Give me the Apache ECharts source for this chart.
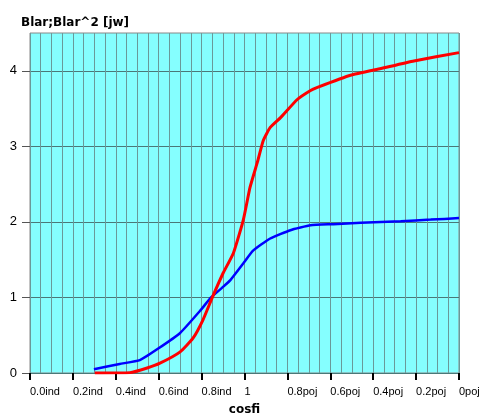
<!DOCTYPE html>
<html>
<head>
<meta charset="utf-8">
<script src="https://cdn.jsdelivr.net/npm/echarts@6/dist/echarts.min.js"></script>
<style>
html,body{margin:0;padding:0;background:#fff;}
#c{width:479px;height:414px;}
</style>
</head>
<body>
<div id="c"></div>
<script>
// Tick labels of the x axis (one per major tick)
var xTickLabels = ['0.0ind','0.2ind','0.4ind','0.6ind','0.8ind','1','0.8poj','0.6poj','0.4poj','0.2poj','0poj'];
var yTickValues = [0,1,2,3,4];

// Blue series (Blar)
var blueX = [1.49,2.09,2.56,2.98,3.50,3.96,4.22,4.48,4.67,4.97,5.20,5.60,6.07,6.54,7.07,7.71,8.64,9.34,10.0];
var blueY = [0.05,0.12,0.17,0.32,0.53,0.82,1.00,1.13,1.23,1.45,1.62,1.78,1.89,1.955,1.97,1.99,2.01,2.03,2.05];

// Red series (Blar^2)
var redX = [1.51,2.33,2.73,3.03,3.50,3.80,4.03,4.25,4.50,4.74,4.97,5.13,5.30,5.44,5.60,5.84,6.23,6.54,6.70,7.47,8.18,8.95,10.0];
var redY = [0.0,0.005,0.066,0.13,0.28,0.46,0.70,1.00,1.32,1.585,2.02,2.46,2.79,3.08,3.25,3.38,3.62,3.74,3.78,3.94,4.03,4.13,4.24];

function pairs(xs, ys){ var o=[]; for(var i=0;i<xs.length;i++) o.push([xs[i], ys[i]]); return o; }

var gridLineColor = '#6a9a9a';
var chart = echarts.init(document.getElementById('c'), null, {renderer:'canvas'});
chart.setOption({
  animation: false,
  backgroundColor: '#ffffff',
  title: {
    text: 'Blar;Blar^2 [jw]',
    left: 16, top: 12,
    textStyle: {fontFamily: 'DejaVu Sans, sans-serif', fontSize: 12, fontWeight: 'bold', color: '#000'}
  },
  grid: {
    left: 30, top: 33, right: 20, bottom: 41,
    outerBoundsMode: 'none',
    containLabel: false,
    show: true,
    backgroundColor: '#85ffff',
    borderColor: '#888888', borderWidth: 1
  },
  xAxis: {
    type: 'value', min: 0, max: 10, interval: 1,
    offset: 3,
    name: 'cosfi', nameLocation: 'middle', nameGap: 28,
    nameTextStyle: {fontFamily: 'DejaVu Sans, sans-serif', fontSize: 12, fontWeight: 'bold', color: '#000'},
    axisLine: {show: false},
    axisTick: {show: true, length: 7, lineStyle: {color: '#000', width: 2}},
    axisLabel: {
      margin: 10, align: 'left', showMaxLabel: true, showMinLabel: true, hideOverlap: false,
      fontFamily: 'Liberation Sans, Arial, sans-serif', fontSize: 11, color: '#000',
      formatter: function(v){ var i = Math.round(v); return xTickLabels[i] !== undefined ? xTickLabels[i] : ''; }
    },
    splitLine: {show: true, lineStyle: {color: gridLineColor, width: 1}},
    minorTick: {show: false, splitNumber: 4},
    minorSplitLine: {show: true, lineStyle: {color: gridLineColor, width: 1}}
  },
  yAxis: {
    type: 'value', min: 0, max: 4.5, interval: 1,
    axisLine: {show: false},
    axisTick: {show: true, length: 8, customValues: yTickValues, lineStyle: {color: '#555', width: 1}},
    axisLabel: {
      margin: 13, customValues: yTickValues,
      fontFamily: 'Liberation Sans, Arial, sans-serif', fontSize: 13, color: '#000'
    },
    splitLine: {show: true, lineStyle: {color: '#4a7878', width: 1}}
  },
  series: [
    {type: 'line', data: pairs(blueX, blueY), showSymbol: false, smooth: 0.15,
     lineStyle: {color: '#0000ff', width: 2.5}, z: 3},
    {type: 'line', data: pairs(redX, redY), showSymbol: false, smooth: 0.15,
     lineStyle: {color: '#ff0000', width: 3}, z: 4}
  ]
});
</script>
</body>
</html>
